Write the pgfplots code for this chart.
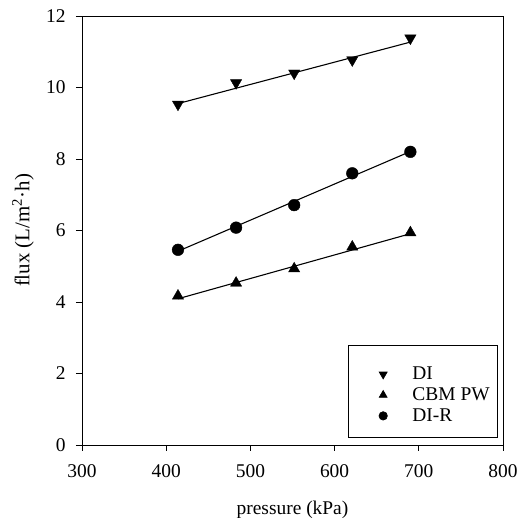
\documentclass[border=0pt]{standalone}
\usepackage{fontspec}
\setmainfont{Liberation Serif}
\usepackage{pgfplots}
\pgfplotsset{compat=1.18}
\pgfplotsset{
  normimg/.style={legend image code/.code={\path (-29bp,0) (27bp,0); \draw[##1, /tikz/every mark/.append style={scale=0.72}] plot coordinates {(0bp,0bp)};}},
  tallimg/.style={legend image code/.code={\path (-29bp,0) (27bp,17bp); \draw[##1, /tikz/every mark/.append style={scale=0.72}] plot coordinates {(0bp,0bp)};}},
}
\begin{document}
\begin{tikzpicture}
\begin{axis}[
  name=ax,
  scale only axis,
  width=421bp, height=429bp,
  xmin=300, xmax=800, ymin=0, ymax=12,
  xtick={300,400,...,800}, ytick={0,2,...,12},
  tick align=outside, tick pos=left,
  major tick length=6bp,
  axis line style={line width=0.8pt},
  tick style={line width=0.8pt, black},
  /pgf/number format/assume math mode=true,
  tick label style={font=\fontsize{19.5}{22}\selectfont},
  xticklabel style={yshift=-10bp},
  yticklabel style={xshift=-7bp},
  label style={font=\fontsize{19.5}{22}\selectfont},
  xlabel={pressure (kPa)},
  ylabel={flux (L/m\textsuperscript{2}·h)},
  xlabel style={at={(axis description cs:0.5,-0.1515)}, anchor=center},
  ylabel style={at={(axis description cs:-0.140,0.5)}, anchor=center, font=\fontsize{21}{24}\selectfont},
  legend cell align=left,
  legend style={at={(0.988,0.018)}, anchor=south east, draw=black, line width=0.6pt,
    font=\fontsize{19.5}{22}\selectfont, inner xsep=6bp, inner ysep=12bp, row sep=2.5bp},
  normimg,
]
\addplot[black, only marks, mark=triangle*, mark size=6.5, mark options={rotate=180}, tallimg]
  coordinates {(414,9.53) (483,10.13) (552,10.40) (621,10.77) (690,11.38)};
\addlegendentry{DI}
\addplot[black, only marks, mark=triangle*, mark size=6.5]
  coordinates {(414,4.17) (483,4.53) (552,4.93) (621,5.54) (690,5.94)};
\addlegendentry{CBM PW}
\addplot[black, only marks, mark=*, mark size=5.9]
  coordinates {(414,5.46) (483,6.08) (552,6.71) (621,7.60) (690,8.20)};
\addlegendentry{DI-R}
\addplot[black, line width=1.1pt, forget plot] coordinates {(414,9.55) (690,11.27)};
\addplot[black, line width=1.1pt, forget plot] coordinates {(414,4.09) (690,5.91)};
\addplot[black, line width=1.1pt, forget plot] coordinates {(414,5.42) (690,8.21)};
\end{axis}
\pgfresetboundingbox
\path[use as bounding box] ([xshift=-82bp,yshift=-73bp]ax.south west) rectangle ([xshift=19bp,yshift=16bp]ax.north east);
\end{tikzpicture}
\end{document}
